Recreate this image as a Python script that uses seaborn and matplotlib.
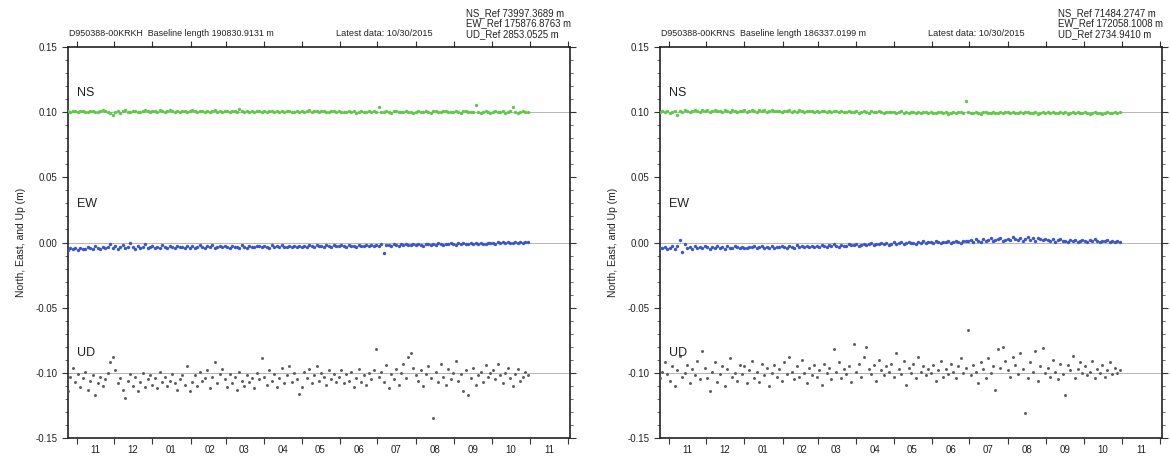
import matplotlib
matplotlib.use("Agg")
import numpy as np
import pandas as pd
import seaborn as sns
import matplotlib.pyplot as plt
import matplotlib.dates as mdates
import matplotlib.transforms as mtransforms
from matplotlib.ticker import MultipleLocator, NullFormatter, FormatStrFormatter

# ---------------- data (values in metres, one every two days up to 10/30/2015) ----------------
LAST_DATE = "2015-10-30"

krkh_ns = [
    .1002, .1008, .1004,
    .1010, .1006, .1003, .1009, .1012, .1005, .1001, .1007, .1011, .1004, .0999, .1006, .1013, .1008, .1003,
    .0991, .0976, .1004, .1010, .0996, .1007, .1015, .1002, .0998, .1009, .1012, .1005, .1001, .1010, .1016, .1006,
    .1004, .1011, .1007, .1001, .1013, .1009, .1003, .1008, .1014, .1006, .1000, .1010, .1005, .1012, .1007,
    .1003, .1009, .1015, .1006, .1002, .1011, .1007, .1004, .1010, .1001, .1008, .1013, .1005, .1009,
    .1004, .1010, .1006, .1001, .1012, .1008, .1003, .1021, .1007, .1002, .1009, .1005, .1011, .1000, .1006, .1010,
    .1003, .1008, .1004, .1011, .1006, .1000, .1009, .1005, .1012, .1002, .1007, .1010, .1004, .1001, .1008,
    .1005, .1010, .1002, .1007, .1013, .1003, .1009, .1006, .1001, .1008, .1011, .1004, .1000, .1006, .1010, .1003,
    .1007, .1002, .0998, .1005, .1009, .1001, .1006, .0997, .1004, .1008, .1000, .1005, .1010, .1002, .1006,
    .1001, .1042, .1005, .0999, .1008, .1003, .0996, .1006, .1010, .1002, .0998, .1004, .1009, .1000, .1005, .0997,
    .1003, .1008, .0999, .1005, .1012, .1001, .0996, .1006, .1010, .1002, .0998, .1007, .1011, .1003, .0999, .1005,
    .1009, .1001, .0996, .1006, .1011, .1003, .0998, .1004, .1057, .1000, .0995, .1005, .1009, .1001, .0997,
    .1004, .1008, .0999, .1003, .1010, .0997, .1002, .1007, .1038, .1001, .0996, .1005, .1009, .1000, .1004,
]
krkh_ew = [
    -.0048, -.0055, -.0042,
    -.0050, -.0044, -.0058, -.0039, -.0047, -.0053, -.0036, -.0045, -.0049, -.0030, -.0041, -.0052, -.0038, -.0046, -.0034,
    -.0010, -.0042, -.0028, -.0050, -.0035, -.0019, -.0044, -.0031, -.0006, -.0038, -.0047, -.0025, -.0040, -.0033, -.0015, -.0043,
    -.0036, -.0027, -.0045, -.0032, -.0040, -.0021, -.0038, -.0046, -.0029, -.0035, -.0042, -.0024, -.0037, -.0031, -.0044,
    -.0030, -.0039, -.0026, -.0043, -.0034, -.0020, -.0037, -.0041, -.0028, -.0035, -.0023, -.0040, -.0032, -.0027,
    -.0038, -.0029, -.0034, -.0042, -.0025, -.0036, -.0031, -.0039, -.0022, -.0035, -.0040, -.0027, -.0033, -.0037, -.0024, -.0030,
    -.0036, -.0026, -.0032, -.0039, -.0023, -.0034, -.0029, -.0037, -.0021, -.0031, -.0035, -.0025, -.0033, -.0028, -.0036,
    -.0024, -.0031, -.0027, -.0035, -.0020, -.0029, -.0033, -.0022, -.0030, -.0026, -.0034, -.0019, -.0028, -.0032, -.0023, -.0027,
    -.0030, -.0021, -.0026, -.0033, -.0018, -.0027, -.0024, -.0031, -.0016, -.0025, -.0029, -.0020, -.0026, -.0022, -.0028,
    -.0019, -.0025, -.0014, -.0078, -.0022, -.0017, -.0026, -.0011, -.0020, -.0024, -.0015, -.0021, -.0009, -.0018, -.0023, -.0013,
    -.0020, -.0011, -.0017, -.0024, -.0008, -.0015, -.0019, -.0010, -.0016, -.0006, -.0013, -.0018, -.0009, -.0014, -.0004, -.0012,
    -.0016, -.0007, -.0011, -.0003, -.0014, -.0009, -.0002, -.0012, -.0006, -.0010, -.0001, -.0008, -.0013, -.0004, -.0007,
    -.0002, -.0009, .0003, -.0005, .0001, -.0007, .0004, -.0003, .0000, .0006, -.0004, .0002, -.0001, .0005, .0001,
]
krkh_ud = [
    -.108, -.114, -.103,
    -.096, -.107, -.101, -.111, -.104, -.099, -.113, -.106, -.102, -.117, -.108, -.103, -.110, -.105, -.100,
    -.092, -.088, -.098, -.108, -.104, -.113, -.119, -.106, -.101, -.110, -.103, -.114, -.107, -.100, -.111, -.105,
    -.102, -.109, -.104, -.112, -.099, -.107, -.103, -.110, -.106, -.101, -.108, -.113, -.105, -.102, -.109,
    -.095, -.114, -.107, -.102, -.110, -.099, -.106, -.104, -.098, -.112, -.103, -.092, -.108, -.101,
    -.097, -.105, -.111, -.101, -.108, -.103, -.113, -.099, -.106, -.110, -.102, -.107, -.104, -.112, -.100, -.105,
    -.089, -.103, -.109, -.098, -.106, -.101, -.111, -.104, -.096, -.108, -.102, -.095, -.107, -.100, -.105,
    -.116, -.111, -.099, -.104, -.097, -.108, -.102, -.095, -.106, -.100, -.103, -.109, -.098, -.105, -.101, -.107,
    -.103, -.098, -.108, -.101, -.106, -.099, -.111, -.104, -.097, -.107, -.102, -.109, -.100, -.105, -.098,
    -.082, -.103, -.099, -.107, -.094, -.112, -.101, -.105, -.097, -.109, -.100, -.093, -.104, -.088, -.085, -.096,
    -.102, -.106, -.098, -.110, -.101, -.095, -.104, -.135, -.099, -.107, -.093, -.103, -.109, -.097, -.105, -.100,
    -.091, -.106, -.101, -.114, -.098, -.117, -.104, -.096, -.109, -.102, -.099, -.107, -.094, -.103, -.100,
    -.098, -.105, -.093, -.102, -.108, -.100, -.096, -.104, -.110, -.101, -.097, -.106, -.103, -.099, -.102,
]

krns_ns = [
    .1004, .0999, .1007,
    .1002, .1010, .0996, .1005, .1012, .0978, .1008, .1003, .1014, .1006, .1001, .1011, .1017, .1007, .1003,
    .1013, .1008, .1019, .1004, .1010, .1016, .1006, .1012, .1001, .1015, .1009, .1005, .1018, .1011, .1003, .1012,
    .1008, .1015, .1004, .1011, .1017, .1007, .1002, .1013, .1009, .1016, .1005, .1010, .1014, .1006, .1011,
    .1009, .1003, .1012, .1007, .1015, .1005, .1010, .1001, .1013, .1008, .1004, .1011, .1006, .1009,
    .1004, .1010, .1001, .1007, .1012, .1003, .1008, .0999, .1006, .1011, .1002, .1008, .1004, .0998, .1009, .1005,
    .1001, .1007, .0997, .1004, .1010, .1002, .0996, .1006, .1003, .0999, .1008, .1001, .0995, .1005, .1002,
    .0998, .1004, .0994, .1001, .1007, .0996, .1003, .0992, .1000, .1005, .0997, .1002, .0993, .0999, .1004, .0996,
    .1001, .0995, .0991, .0999, .1004, .0994, .1000, .0989, .0997, .1002, .0993, .0998, .1003, .0995, .1082,
    .0999, .0992, .0997, .1003, .0994, .0988, .0998, .1001, .0993, .0996, .1002, .0991, .0997, .1000, .0994, .0998,
    .1003, .0995, .0999, .0990, .0997, .1002, .0994, .0999, .1004, .0993, .0997, .1001, .0988, .0996, .1000, .0994,
    .0998, .0992, .1001, .0995, .0990, .0999, .0994, .1003, .0989, .0997, .1000, .0993, .0998, .0991, .0996,
    .0999, .0993, .0989, .0997, .1001, .0992, .0996, .0987, .0995, .0999, .0991, .0996, .1002, .0993, .0998,
]
krns_ew = [
    -.0038, -.0046, -.0041,
    -.0035, -.0049, -.0042, -.0030, -.0051, -.0025, .0018, -.0072, -.0010, -.0045, -.0033, -.0048, -.0027, -.0040, -.0036,
    -.0044, -.0029, -.0038, -.0047, -.0032, -.0041, -.0026, -.0043, -.0035, -.0049, -.0030, -.0039, -.0045, -.0028, -.0037, -.0042,
    -.0031, -.0040, -.0046, -.0033, -.0038, -.0024, -.0042, -.0036, -.0029, -.0044, -.0034, -.0039, -.0027, -.0041, -.0032,
    -.0037, -.0028, -.0035, -.0043, -.0026, -.0033, -.0040, -.0022, -.0036, -.0030, -.0038, -.0025, -.0034, -.0029,
    -.0031, -.0024, -.0036, -.0019, -.0028, -.0033, -.0021, -.0030, -.0015, -.0026, -.0032, -.0018, -.0025, -.0029, -.0013, -.0022,
    -.0020, -.0011, -.0026, -.0016, -.0008, -.0021, -.0013, -.0004, -.0018, -.0010, -.0015, -.0002, -.0012, -.0007, -.0016,
    -.0009, .0001, -.0013, -.0005, .0004, -.0010, -.0002, .0006, -.0007, .0000, -.0011, .0003, -.0004, .0008, -.0006, .0002,
    .0005, -.0003, .0009, .0001, -.0005, .0007, .0002, .0012, -.0001, .0006, .0010, .0003, -.0002, .0008, .0014,
    .0011, .0019, .0004, .0024, .0015, .0007, .0028, .0013, .0020, .0033, .0009, .0017, .0026, .0038, .0012, .0022,
    .0030, .0016, .0041, .0025, .0019, .0035, .0011, .0028, .0044, .0021, .0032, .0014, .0037, .0024, .0018, .0029,
    .0020, .0012, .0027, .0006, .0018, .0024, .0009, .0015, .0003, .0021, .0011, .0016, .0007, .0013, .0019,
    .0010, .0004, .0017, .0008, .0026, .0012, .0003, .0015, .0009, .0019, .0006, .0013, .0002, .0011, .0007,
]
krns_ud = [
    -.097, -.104, -.099,
    -.092, -.101, -.106, -.095, -.110, -.098, -.087, -.103, -.100, -.094, -.108, -.097, -.102, -.091, -.105,
    -.083, -.096, -.104, -.114, -.099, -.092, -.107, -.101, -.095, -.110, -.097, -.089, -.103, -.100, -.106, -.094,
    -.101, -.095, -.108, -.098, -.091, -.104, -.099, -.107, -.093, -.102, -.096, -.110, -.100, -.094, -.103,
    -.097, -.106, -.092, -.101, -.088, -.099, -.105, -.095, -.103, -.090, -.100, -.108, -.096, -.102,
    -.094, -.103, -.098, -.109, -.093, -.100, -.096, -.105, -.082, -.099, -.092, -.104, -.097, -.101, -.095, -.107,
    -.078, -.099, -.093, -.103, -.088, -.080, -.097, -.101, -.094, -.106, -.090, -.098, -.102, -.095, -.099,
    -.093, -.103, -.085, -.097, -.101, -.091, -.109, -.096, -.100, -.093, -.104, -.088, -.099, -.095, -.102, -.097,
    -.100, -.094, -.106, -.098, -.091, -.103, -.097, -.101, -.093, -.099, -.104, -.095, -.089, -.100, -.096,
    -.067, -.102, -.094, -.099, -.108, -.092, -.097, -.104, -.089, -.100, -.095, -.113, -.082, -.096, -.080, -.091,
    -.098, -.103, -.088, -.094, -.101, -.085, -.097, -.131, -.104, -.092, -.099, -.083, -.106, -.095, -.081, -.100,
    -.096, -.103, -.090, -.099, -.105, -.093, -.101, -.117, -.094, -.098, -.087, -.104, -.097, -.092, -.100,
    -.095, -.102, -.099, -.091, -.104, -.097, -.100, -.094, -.103, -.098, -.092, -.101, -.096, -.100, -.098,
]

COMPONENTS = ["NS", "EW", "UD"]
REF_LEVELS = [0.10, 0.00, -0.10]

panels = [
    dict(series=[krkh_ns, krkh_ew, krkh_ud],
         title="D950388-00KRKH  Baseline length 190830.9131 m",
         latest="Latest data: 10/30/2015",
         refs=["NS_Ref 73997.3689 m", "EW_Ref 175876.8763 m", "UD_Ref 2853.0525 m"]),
    dict(series=[krns_ns, krns_ew, krns_ud],
         title="D950388-00KRNS  Baseline length 186337.0199 m",
         latest="Latest data: 10/30/2015",
         refs=["NS_Ref 71484.2747 m", "EW_Ref 172058.1008 m", "UD_Ref 2734.9410 m"]),
]

# ---------------- style ----------------
sns.set_theme(style="ticks")
plt.rcParams["font.family"] = ["Liberation Sans", "DejaVu Sans"]
plt.rcParams["axes.unicode_minus"] = False

COLORS = {"NS": "#62c84c", "EW": "#3a56c8", "UD": "#5a5a5a"}
SIZES = {"NS": 6, "EW": 6, "UD": 4.5}

W, H = 1170, 459
fig = plt.figure(figsize=(W / 100, H / 100), dpi=100)
fig.patch.set_facecolor("white")


def box(x0, y0, x1, y1):
    return [x0 / W, 1 - y1 / H, (x1 - x0) / W, (y1 - y0) / H]


axes = [fig.add_axes(box(68, 47, 570, 438)), fig.add_axes(box(660, 47, 1162, 438))]


def ptext(ax, dx, dy, s, **kw):
    tr = mtransforms.offset_copy(ax.transAxes, fig=fig, x=dx, y=dy, units="dots")
    ax.text(0, 1, s, transform=tr, **kw)


for ax, p in zip(axes, panels):
    frames = []
    for comp, vals in zip(COMPONENTS, p["series"]):
        dates = pd.date_range(end=LAST_DATE, periods=len(vals), freq="2D")
        frames.append(pd.DataFrame({"date": dates, "value": vals, "comp": comp}))
    df = pd.concat(frames, ignore_index=True)

    for lvl in REF_LEVELS:
        ax.axhline(lvl, color="#b5b5b5", lw=0.7, zorder=1)

    for comp in COMPONENTS:
        sub = df[df["comp"] == comp]
        sns.scatterplot(data=sub, x="date", y="value", ax=ax, color=COLORS[comp],
                        s=SIZES[comp], linewidth=0, marker="o", zorder=3, legend=False)

    ax.set_xlim(pd.Timestamp("2014-10-25"), pd.Timestamp("2015-12-03"))
    ax.set_ylim(-0.15, 0.15)

    ax.xaxis.set_major_locator(mdates.MonthLocator())
    ax.xaxis.set_major_formatter(NullFormatter())
    ax.xaxis.set_minor_locator(mdates.MonthLocator(bymonthday=16))
    ax.xaxis.set_minor_formatter(mdates.DateFormatter("%m"))
    ax.tick_params(axis="x", which="major", direction="out", length=4, width=0.8,
                   color="#333333", top=True, bottom=True)
    ax.tick_params(axis="x", which="minor", length=0, pad=5, labelsize=7, labelcolor="#222222",
                   top=False)

    ax.yaxis.set_major_locator(MultipleLocator(0.05))
    ax.yaxis.set_minor_locator(MultipleLocator(0.01))
    ax.yaxis.set_major_formatter(FormatStrFormatter("%.2f"))
    ax.tick_params(axis="y", which="major", direction="out", length=4, width=0.8, color="#333333",
                   left=True, right=True, labelsize=7, pad=3.5, labelcolor="#222222")
    ax.tick_params(axis="y", which="minor", direction="out", length=2.5, width=0.6, color="#555555",
                   left=True, right=True)

    for side, sp in ax.spines.items():
        sp.set_visible(True)
        sp.set_color("#222222")
        sp.set_linewidth(1.2)

    ax.set_xlabel("")
    ax.set_ylabel("North, East, and Up (m)", fontsize=7.5, color="#222222")
    ax.yaxis.set_label_coords(-0.084, 0.5)

    # header texts
    ptext(ax, 1, 13, p["title"], fontsize=6.4, color="#222222", va="center", ha="left")
    ptext(ax, 268, 13, p["latest"], fontsize=6.6, color="#222222", va="center", ha="left")
    for i, r in enumerate(p["refs"]):
        ptext(ax, 398, 34 - 10.5 * i, r, fontsize=6.9, color="#222222", va="center", ha="left")

    # component labels
    for comp, dy in zip(COMPONENTS, [-46, -157, -306]):
        ptext(ax, 9, dy, comp, fontsize=9, color="#222222", va="center", ha="left")

fig.savefig("out.png", dpi=100, facecolor="white")
